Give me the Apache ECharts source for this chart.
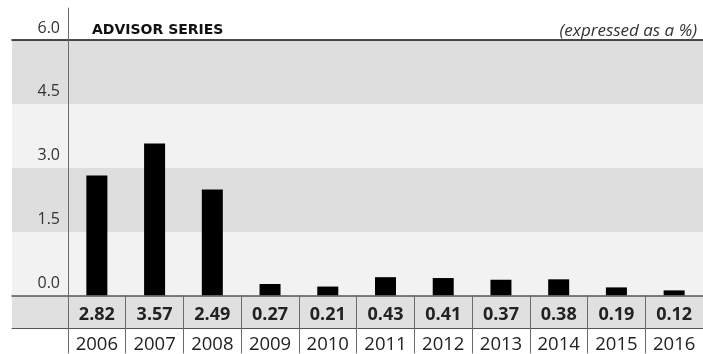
<!DOCTYPE html>
<html>
<head>
<meta charset="utf-8">
<style>
  html, body { margin: 0; padding: 0; background: #ffffff; }
  #chart { width: 703px; height: 354px; }
</style>
<script src="https://cdn.jsdelivr.net/npm/echarts@6/dist/echarts.min.js"></script>
</head>
<body>
<div id="chart"></div>
<script>
// Yearly values of the series, in percent
const years = ['2006', '2007', '2008', '2009', '2010', '2011', '2012', '2013', '2014', '2015', '2016'];
const values = [2.82, 3.57, 2.49, 0.27, 0.21, 0.43, 0.41, 0.37, 0.38, 0.19, 0.12];
const yTicks = [0, 1.5, 3.0, 4.5, 6.0];

const titleText = 'ADVISOR SERIES';
const unitText = '(expressed as a %)';

const FONT = '"Open Sans", sans-serif';
const TITLE_FONT = '"DejaVu Sans", sans-serif';
const LINE_DARK = '#555555';
const AXIS_GREY = '#6b6b6b';

const chart = echarts.init(document.getElementById('chart'), null, { renderer: 'canvas' });

const yMin = yTicks[0];
const yMax = yTicks[yTicks.length - 1];
const yStep = yTicks[1] - yTicks[0];

chart.setOption({
  animation: false,
  backgroundColor: '#ffffff',
  title: [
    {
      text: titleText,
      left: 87, top: 17,
      textStyle: { fontFamily: TITLE_FONT, fontSize: 14, lineHeight: 16, fontWeight: 'bold', color: '#111111' }
    },
    {
      text: unitText,
      right: 1, top: 16,
      textStyle: { fontFamily: FONT, fontSize: 17, lineHeight: 21, fontStyle: 'italic', fontWeight: 'normal', color: '#333333' }
    }
  ],
  grid: [
    // 0: plot area with the bars and the two label rows underneath
    { left: 68, right: -4, top: 40, bottom: 58, containLabel: false },
    // 1: shaded background bands, reaching under the y labels
    { left: 12, right: 0, top: 40, bottom: 58, containLabel: false },
    // 2: grey value row of the table
    { left: 12, right: 0, top: 296, height: 32, show: true, backgroundColor: '#e0e0e0', borderWidth: 0 },
    // 3: short stub of the value axis above the plot
    { left: 68, right: -4, top: 8, height: 32 }
  ],
  xAxis: [
    {
      gridIndex: 0, type: 'category', data: years, position: 'bottom', z: 5,
      axisLine: { show: false },
      axisTick: { show: true, alignWithLabel: false, length: 58, lineStyle: { color: AXIS_GREY, width: 1 } },
      axisLabel: {
        margin: 10, lineHeight: 18,
        formatter: (v, i) => values[i].toFixed(2),
        fontFamily: FONT, fontSize: 18, fontWeight: 'bold', color: '#222222'
      }
    },
    {
      gridIndex: 0, type: 'category', data: years, position: 'bottom', offset: 32, z: 5,
      axisLine: { show: false },
      axisTick: { show: false },
      axisLabel: { margin: 8, lineHeight: 18, fontFamily: FONT, fontSize: 18.5, color: '#222222' }
    },
    {
      gridIndex: 1, type: 'value', position: 'bottom', z: 4,
      axisLine: { show: true, lineStyle: { color: LINE_DARK, width: 1.5 } },
      axisTick: { show: false }, axisLabel: { show: false }, splitLine: { show: false }
    },
    {
      gridIndex: 1, type: 'value', position: 'top', z: 4,
      axisLine: { show: true, lineStyle: { color: '#111111', width: 1.5 } },
      axisTick: { show: false }, axisLabel: { show: false }, splitLine: { show: false }
    },
    {
      gridIndex: 2, type: 'value', position: 'bottom', z: 4,
      axisLine: { show: true, lineStyle: { color: LINE_DARK, width: 1 } },
      axisTick: { show: false }, axisLabel: { show: false }, splitLine: { show: false }
    },
    {
      gridIndex: 3, type: 'value', show: false
    }
  ],
  yAxis: [
    {
      gridIndex: 0, type: 'value', min: yMin, max: yMax, interval: yStep, z: 5,
      axisLine: { show: true, lineStyle: { color: AXIS_GREY, width: 1 } },
      axisTick: { show: false },
      splitLine: { show: false },
      axisLabel: {
        margin: 8, verticalAlign: 'bottom', lineHeight: 16, padding: [0, 0, 4, 0],
        formatter: v => v.toFixed(1),
        fontFamily: FONT, fontSize: 16, color: '#333333'
      }
    },
    {
      gridIndex: 1, type: 'value', min: yMin, max: yMax, interval: yStep, z: 0,
      axisLine: { show: false }, axisTick: { show: false }, axisLabel: { show: false },
      splitLine: { show: false },
      splitArea: { show: true, areaStyle: { color: ['#f2f2f2', '#dedede'] } }
    },
    {
      gridIndex: 2, type: 'value', show: false
    },
    {
      gridIndex: 3, type: 'value', z: 5,
      axisLine: { show: true, lineStyle: { color: AXIS_GREY, width: 1 } },
      axisTick: { show: false }, axisLabel: { show: false }, splitLine: { show: false }
    }
  ],
  series: [
    {
      type: 'bar',
      xAxisIndex: 0, yAxisIndex: 0,
      data: values,
      barWidth: 21,
      itemStyle: { color: '#000000' },
      z: 3
    }
  ]
});
</script>
</body>
</html>
